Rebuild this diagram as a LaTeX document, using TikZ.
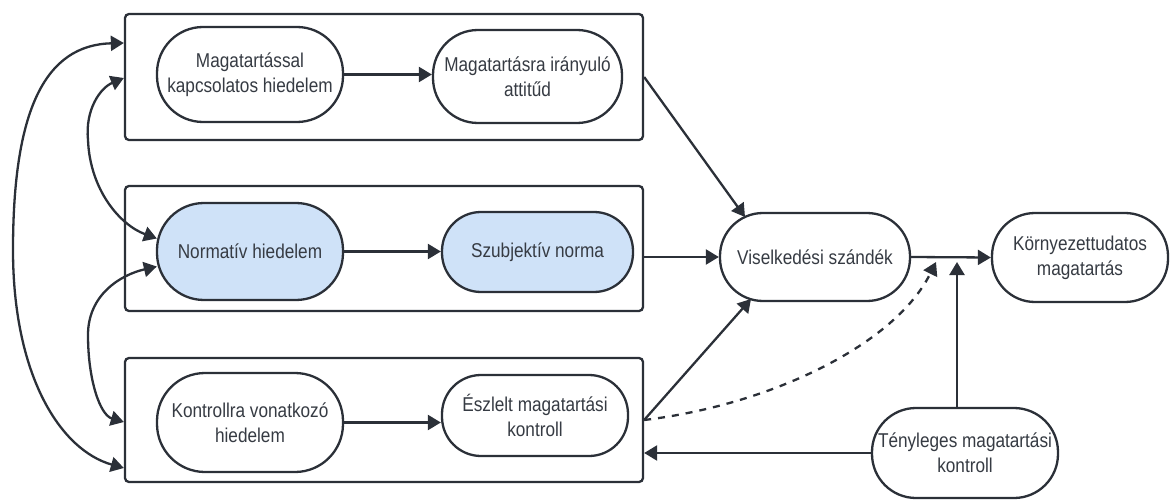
\documentclass[tikz,border=0pt]{standalone}
\usepackage{fontspec}
\setmainfont{Liberation Sans}[FakeStretch=0.86]
\usetikzlibrary{arrows.meta,calc}
\definecolor{ink}{HTML}{2B3038}
\definecolor{txt}{HTML}{363B43}
\definecolor{paleblue}{HTML}{CFE2F8}
\tikzset{
  frame/.style={draw=ink, line width=2.3pt, rounded corners=4pt, inner sep=0pt},
  pill/.style={draw=ink, line width=2.3pt, fill=white, align=center, text=txt,
    font=\fontsize{20}{25}\selectfont, inner sep=0pt},
  conn/.style={draw=ink, line width=2.3pt, -{Triangle[length=13pt,width=15pt]}},
  dbl/.style={draw=ink, line width=2.3pt,
    {Triangle[length=13pt,width=15pt]}-{Triangle[length=13pt,width=15pt]}},
}
\begin{document}
\begin{tikzpicture}[x=1pt,y=-1pt]
\useasboundingbox (0,0) rectangle (1170,500);

% the three grouping frames
\node[frame, minimum width=518pt, minimum height=126pt] (b1) at (384,77) {};
\node[frame, minimum width=518pt, minimum height=125pt] (b2) at (384,248.5) {};
\node[frame, minimum width=518pt, minimum height=124pt] (b3) at (384,420) {};

% beliefs and their direct outcomes
\node[pill, minimum width=186pt, minimum height=95pt, rounded corners=46pt]
  (mk) at (250,74.5) {Magatartással\\kapcsolatos hiedelem};
\node[pill, minimum width=189pt, minimum height=93pt, rounded corners=45pt]
  (ma) at (527.5,76.5) {Magatartásra irányuló\\attitűd};
\node[pill, fill=paleblue, minimum width=186pt, minimum height=97pt, rounded corners=47pt]
  (nh) at (250,251.5) {Normatív hiedelem};
\node[pill, fill=paleblue, minimum width=191pt, minimum height=80pt, rounded corners=39pt]
  (sn) at (537.5,252) {Szubjektív norma};
\node[pill, minimum width=186pt, minimum height=99pt, rounded corners=48pt]
  (kh) at (250,422.5) {Kontrollra vonatkozó\\hiedelem};
\node[pill, minimum width=186pt, minimum height=81pt, rounded corners=39pt]
  (ek) at (535,415.5) {Észlelt magatartási\\kontroll};

% intention, behaviour and actual control
\node[pill, minimum width=190pt, minimum height=88pt, rounded corners=43pt]
  (vs) at (815,257) {Viselkedési szándék};
\node[pill, minimum width=176pt, minimum height=89pt, rounded corners=43pt]
  (km) at (1080,257.5) {Környezettudatos\\magatartás};
\node[pill, minimum width=186pt, minimum height=90pt, rounded corners=44pt]
  (tm) at (965,453) {Tényleges magatartási\\kontroll};

% junction points on the intention -> behaviour link
\coordinate (j1) at (936,262);
\coordinate (j2) at (957,262);

% arrows inside the frames
\draw[conn] (mk.east) -- (mk.east -| ma.west);
\draw[conn] (nh.east) -- (nh.east -| sn.west);
\draw[conn] (kh.east) -- (kh.east -| ek.west);

% frames into the intention
\draw[conn] (b1.east) -- ($(vs.center)+(-70,-40)$);
\draw[conn] (b2.east |- vs.west) -- (vs.west);
\draw[conn] (b3.east) -- ($(vs.center)+(-64,42)$);

% intention -> behaviour, with moderating links
\draw[conn] (vs.east) -- (km.west);
\draw[conn, dash pattern=on 7pt off 7pt] (b3.east) .. controls (770,405) and (895,345) .. (j1);
\draw[conn] (j2 |- tm.north) -- (j2);
\draw[conn] (tm.west) -- (tm.west -| b3.east);

% correlations between the belief groups
\draw[dbl] ($(b1.west)+(0,-34)$) .. controls (45,45) and (13,110) .. (13,250)
  .. controls (13,375) and (60,450) .. ($(b3.west)+(0,48)$);
\draw[dbl] ($(b1.west)+(0,1)$) .. controls (100,88) and (85,110) .. (88,140)
  .. controls (90,190) and (120,225) .. ($(nh.west)+(1,-13)$);
\draw[dbl] ($(nh.west)+(1,15)$) .. controls (120,275) and (88,295) .. (88,335)
  .. controls (88,380) and (100,415) .. ($(b3.west)+(0,2)$);
\end{tikzpicture}
\end{document}
